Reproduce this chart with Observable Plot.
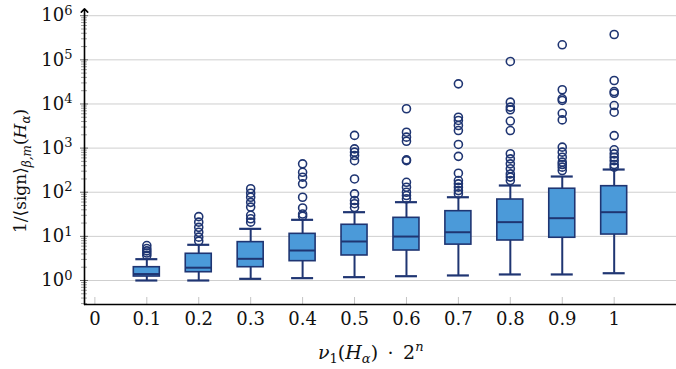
<!DOCTYPE html>
<html>
<head>
<meta charset="utf-8">
<script src="https://cdn.jsdelivr.net/npm/d3@7"></script>
<script src="https://cdn.jsdelivr.net/npm/@observablehq/plot@0.6"></script>
<style>
  html, body { margin: 0; padding: 0; background: #fff; }
  #chart svg { display: block; }
  #chart svg text { font-family: "DejaVu Serif", serif !important; }
</style>
</head>
<body>
<div id="chart"></div>
<script>
// Box positions along nu_1(H_alpha) * 2^n
const positions = [0.1, 0.2, 0.3, 0.4, 0.5, 0.6, 0.7, 0.8, 0.9, 1.0];

// Five-number summaries of 1/<sign> for each position
const lowWhisker  = [1.0, 1.0, 1.09, 1.13, 1.19, 1.25, 1.3, 1.37, 1.37, 1.46];
const q1          = [1.23, 1.54, 2.0, 2.74, 3.69, 4.78, 6.5, 8.06, 9.3, 11.0];
const median      = [1.40, 1.95, 3.1, 4.78, 7.65, 9.9, 12.4, 21, 25.8, 35.3];
const q3          = [2.0, 4.03, 7.4, 11.4, 18.3, 26.3, 37.2, 68.4, 120, 137];
const highWhisker = [3.04, 6.44, 14.8, 23.7, 35.3, 59.5, 77, 142, 227, 327];

// Outliers beyond the upper whisker, one list per position
const outliers = [
  [3.7, 4.2, 4.7, 5.3, 6.2],
  [7.8, 9.6, 12.4, 16, 21, 28],
  [21, 25, 30, 46, 59, 77, 95, 120],
  [28.7, 32, 44, 77, 155, 219, 283, 440],
  [45, 55, 65, 92, 200, 520, 680, 810, 960, 1940],
  [71, 84, 100, 130, 168, 520, 543, 1430, 1770, 2290, 7800],
  [92, 109, 130, 155, 184, 270, 650, 1210, 2500, 3250, 4230, 5000, 28600],
  [184, 220, 260, 340, 440, 570, 745, 2500, 4100, 7400, 8500, 11000, 92000],
  [310, 370, 425, 480, 620, 810, 1050, 4350, 6150, 12000, 13100, 21000, 219000],
  [370, 425, 520, 620, 740, 915, 1920, 6500, 9200, 17500, 19100, 34000, 375000]
];

// Axis ticks
const xTicks = [0, 0.1, 0.2, 0.3, 0.4, 0.5, 0.6, 0.7, 0.8, 0.9, 1];
const yExponents = [0, 1, 2, 3, 4, 5, 6];

// Build tables for the marks
const boxes = positions.map((pos, i) => ({
  pos, lo: lowWhisker[i], q1: q1[i], median: median[i], q3: q3[i], hi: highWhisker[i]
}));
const outlierRows = positions.flatMap((pos, i) => outliers[i].map(value => ({pos, value})));
const decades = yExponents.map(e => 10 ** e);
const minors = d3.range(-1, 6).flatMap(e => d3.range(2, 10).map(m => m * 10 ** e))
  .filter(v => v > 0.3);

// Layout constants
const W = 676, H = 369;
const mLeft = 84, mTop = 10, mBottom = 65;
const xDomain = [-0.02, 1.12];
const yLo = 10 ** -0.544, yHi = 10 ** 6.118;
const pxX = (xDomain[1] - xDomain[0]) / (W - mLeft);         // data units per pixel (x)
const pxLogY = (Math.log10(yHi) - Math.log10(yLo)) / (H - mTop - mBottom);
const axisX = xDomain[0];
const boxHalf = 13 * pxX, capHalf = 11 * pxX;

const navy = "#1f3572";
const blue = "#4b9ad9";
const font = "DejaVu Serif";

const chart = Plot.plot({
  width: W,
  height: H,
  marginLeft: mLeft,
  marginRight: 0,
  marginTop: mTop,
  marginBottom: mBottom,
  style: {fontFamily: font, fontSize: "18px", background: "#fff", overflow: "visible"},
  x: {domain: xDomain, axis: null},
  y: {type: "log", domain: [yLo, yHi], axis: null},
  marks: [
    // horizontal grid at each decade
    Plot.ruleY(decades, {stroke: "#cfcfcf", strokeWidth: 1}),
    // small inward x ticks
    Plot.ruleX(xTicks, {y1: yLo, y2: yLo * 10 ** (7 * pxLogY), stroke: "#c4c4c4", strokeWidth: 1}),
    // minor and major y ticks straddling the axis
    Plot.ruleY(minors, {x1: axisX - 3 * pxX, x2: axisX + 3 * pxX, stroke: "#888", strokeWidth: 0.8}),
    Plot.ruleY(decades, {x1: axisX - 4 * pxX, x2: axisX + 4 * pxX, stroke: "#666", strokeWidth: 1}),
    // tick labels
    Plot.axisY({ticks: decades, tickSize: 0, tickPadding: 12, tickFormat: d => String(Math.round(Math.log10(d))),
      label: null, fontSize: 18, fill: "#111"}),
    Plot.axisX({ticks: xTicks, tickSize: 0, tickPadding: 8, tickFormat: d => String(d),
      label: null, fontSize: 18, fill: "#111"}),
    // whiskers and caps
    Plot.ruleX(boxes, {x: "pos", y1: "lo", y2: "hi", stroke: navy, strokeWidth: 2}),
    Plot.ruleY(boxes, {y: "lo", x1: d => d.pos - capHalf, x2: d => d.pos + capHalf, stroke: navy, strokeWidth: 2.2}),
    Plot.ruleY(boxes, {y: "hi", x1: d => d.pos - capHalf, x2: d => d.pos + capHalf, stroke: navy, strokeWidth: 2.2}),
    // interquartile boxes and medians
    Plot.rect(boxes, {x1: d => d.pos - boxHalf, x2: d => d.pos + boxHalf, y1: "q1", y2: "q3", fill: blue, stroke: navy, strokeWidth: 1.6}),
    Plot.ruleY(boxes, {y: "median", x1: d => d.pos - boxHalf, x2: d => d.pos + boxHalf, stroke: navy, strokeWidth: 2}),
    // outliers
    Plot.dot(outlierRows, {x: "pos", y: "value", r: 4, stroke: navy, strokeWidth: 1.6, fill: "none"}),
    // axis lines
    Plot.ruleY([yLo], {stroke: "#000", strokeWidth: 1.6}),
    Plot.line([[axisX, yLo], [axisX, yHi]], {stroke: "#000", strokeWidth: 1.6, markerEnd: "arrow"})
  ]
});

document.getElementById("chart").appendChild(chart);

const svg = d3.select(chart);

// y tick labels as 10 with a raised exponent
svg.selectAll('g[aria-label="y-axis tick label"] text').each(function () {
  const exp = this.textContent;
  const t = d3.select(this).text("");
  t.append("tspan").text("10");
  t.append("tspan").attr("dy", "-0.5em").attr("font-size", "13px").text(exp);
});

// Axis titles with math-style sub/superscripts
const xTitle = svg.append("text")
  .attr("x", 318)
  .attr("y", 359)
  .attr("text-anchor", "start")
  .attr("font-size", 19)
  .attr("fill", "#111");
xTitle.append("tspan").attr("font-style", "italic").text("ν");
xTitle.append("tspan").attr("dy", 4).attr("font-size", "13px").text("1");
xTitle.append("tspan").attr("dy", -4).text("(");
xTitle.append("tspan").attr("font-style", "italic").text("H");
xTitle.append("tspan").attr("dy", 4).attr("font-size", "13px").attr("font-style", "italic").text("α");
xTitle.append("tspan").attr("dy", -4).text(")\u2002·\u20022");
xTitle.append("tspan").attr("dy", -8).attr("font-size", "13px").attr("font-style", "italic").text("n");

const yTitle = svg.append("text")
  .attr("transform", "translate(26,233) rotate(-90)")
  .attr("text-anchor", "start")
  .attr("font-size", 17)
  .attr("fill", "#111");
yTitle.append("tspan").text("1/⟨sign⟩");
yTitle.append("tspan").attr("dy", 5).attr("font-size", "12px").attr("font-style", "italic").text("β,m");
yTitle.append("tspan").attr("dy", -5).text("(");
yTitle.append("tspan").attr("font-style", "italic").text("H");
yTitle.append("tspan").attr("dy", 4).attr("font-size", "12px").attr("font-style", "italic").text("α");
yTitle.append("tspan").attr("dy", -4).text(")");
</script>
</body>
</html>
